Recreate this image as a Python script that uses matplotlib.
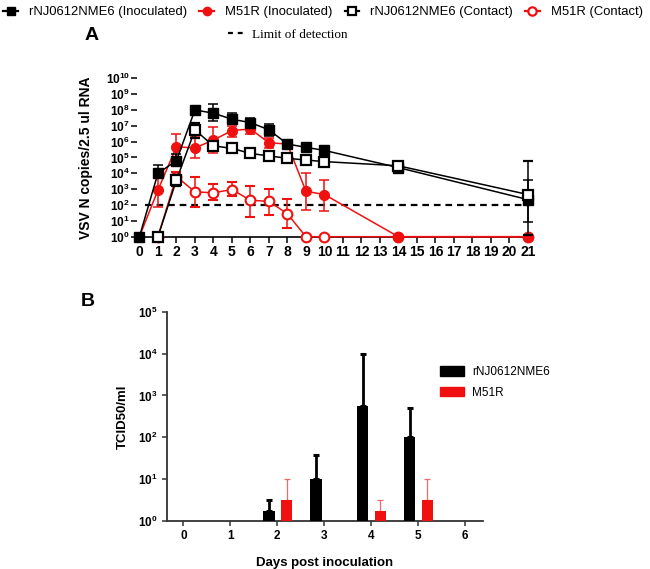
import numpy as np
import matplotlib
matplotlib.use("Agg")
from matplotlib import pyplot as plt
from matplotlib.lines import Line2D
from matplotlib.patches import Patch
from matplotlib.ticker import FixedLocator, FuncFormatter, NullLocator

plt.rcParams['font.family'] = ['Liberation Sans', 'DejaVu Sans']
plt.rcParams['mathtext.fontset'] = 'custom'
plt.rcParams['mathtext.rm'] = 'Liberation Sans'
plt.rcParams['mathtext.bf'] = 'Liberation Sans:bold'

RED = '#f01010'

# ---------------- panel A : RNA copies ----------------
days_a = [0, 1, 2, 3, 4, 5, 6, 7, 8, 9, 10, 14, 21]
days_c = [1, 2, 3, 4, 5, 6, 7, 8, 9, 10, 14, 21]

rnj_inoc = [1, 1.0e4, 6.3e4, 1.0e8, 6.3e7, 2.6e7, 1.6e7, 5.6e6, 7.1e5, 4.4e5, 2.8e5, 2.3e4, 220]
rnj_inoc_lo = [1, 5.0e3, 3.2e4, 6.3e7, 2.0e7, 1.3e7, 7.9e6, 2.2e6, 4.0e5, 2.8e5, 2.0e5, 1.0e4, 9]
rnj_inoc_hi = [1, 3.2e4, 1.6e5, 1.8e8, 2.3e8, 6.2e7, 3.2e7, 1.4e7, 1.3e6, 7.1e5, 4.0e5, 5.0e4, 4.0e3]

m51_inoc = [1, 870, 4.8e5, 4.0e5, 1.26e6, 5.0e6, 6.3e6, 8.5e5, 7.1e5, 740, 460, 1, 1]
m51_inoc_lo = [1, 80, 8.0e4, 9.3e4, 1.9e5, 2.0e6, 3.2e6, 4.0e5, 7.1e5, 50, 40, 1, 1]
m51_inoc_hi = [1, 1.8e4, 3.1e6, 2.0e6, 8.7e6, 1.0e7, 1.0e7, 1.6e6, 7.1e5, 1.1e4, 4.0e3, 1, 1]

rnj_cont = [1, 3.7e3, 5.5e6, 5.4e5, 3.8e5, 1.8e5, 1.26e5, 8.9e4, 6.9e4, 5.5e4, 3.0e4, 460]
rnj_cont_lo = [1, 1.6e3, 1.6e6, 4.5e5, 3.2e5, 1.5e5, 1.0e5, 7.5e4, 5.8e4, 4.6e4, 1.6e4, 1.2]
rnj_cont_hi = [1, 7.9e3, 1.6e7, 6.5e5, 4.5e5, 2.2e5, 1.5e5, 1.05e5, 8.2e4, 6.6e4, 5.5e4, 6.3e4]

m51_cont = [1, 6.3e3, 680, 590, 950, 200, 170, 28, 1, 1, 1, 1]
m51_cont_lo = [1, 3.2e3, 80, 220, 350, 17, 24, 3.4, 1, 1, 1, 1]
m51_cont_hi = [1, 1.3e4, 6.2e3, 2.0e3, 2.8e3, 1.7e3, 1.0e3, 240, 1, 1, 1, 1]

limit_detection = 100

# ---------------- panel B : TCID50 ----------------
days_b = [2, 3, 4, 5]
tcid_rnj = [1.7, 10, 550, 100]
tcid_rnj_hi = [3.2, 38, 1.0e4, 500]
days_b_red = [2, 4, 5]
tcid_m51 = [3.1, 1.7, 3.1]
tcid_m51_hi = [10, 3.2, 10]


def yerr(v, lo, hi):
    v, lo, hi = np.array(v), np.array(lo), np.array(hi)
    return [v - lo, hi - v]


def pow_fmt(y, pos):
    return r'$\mathbf{10^{%d}}$' % int(round(np.log10(y)))


fig = plt.figure(figsize=(6.5, 5.69), dpi=100)

axA = fig.add_axes([0.2108, 0.584, 0.607, 0.2784])
axA.set_yscale('log')

common = dict(lw=1.1, capsize=3.4, elinewidth=1.1, capthick=1.1, clip_on=False)
l4 = axA.errorbar(days_c, m51_cont, yerr=yerr(m51_cont, m51_cont_lo, m51_cont_hi),
                  color=RED, marker='o', ms=7, mfc='white', mec=RED, mew=1.5, zorder=3, **common)
l2 = axA.errorbar(days_a, m51_inoc, yerr=yerr(m51_inoc, m51_inoc_lo, m51_inoc_hi),
                  color=RED, marker='o', ms=7, mfc=RED, mec=RED, zorder=4, **common)
l1 = axA.errorbar(days_a, rnj_inoc, yerr=yerr(rnj_inoc, rnj_inoc_lo, rnj_inoc_hi),
                  color='black', marker='s', ms=7, mfc='black', mec='black', zorder=5, **common)
l3 = axA.errorbar(days_c, rnj_cont, yerr=yerr(rnj_cont, rnj_cont_lo, rnj_cont_hi),
                  color='black', marker='s', ms=6.5, mfc='white', mec='black', mew=1.6, zorder=6, **common)
for eb in (l1, l2, l3, l4):
    for art in eb.lines[1] + eb.lines[2]:
        art.set_clip_on(False)

axA.hlines(limit_detection, 0.3, 21, colors='black', linestyles=(0, (3, 2.2)), lw=1.6, zorder=2)

axA.set_xlim(-0.13, 21.2)
axA.set_ylim(1, 1e10)
axA.yaxis.set_major_locator(FixedLocator([10.0 ** k for k in range(11)]))
axA.yaxis.set_minor_locator(NullLocator())
axA.yaxis.set_major_formatter(FuncFormatter(pow_fmt))
axA.set_xticks(range(22))
axA.set_xticklabels([str(d) for d in range(22)], fontweight='bold')
axA.tick_params(axis='x', labelsize=10, width=1.1, length=4, pad=2)
axA.tick_params(axis='y', labelsize=8.6, width=1.1, length=4, pad=1)
for s in ('top', 'right', 'left'):
    axA.spines[s].set_visible(False)
axA.spines['bottom'].set_linewidth(1.2)
axA.set_ylabel('VSV N copies/2.5 ul RNA', fontsize=10, fontweight='bold')
axA.yaxis.set_label_coords(-0.112, 0.5)

# ---------------- panel B ----------------
axB = fig.add_axes([0.2565, 0.0844, 0.4862, 0.3678])
axB.set_yscale('log')
xb = np.array(days_b, dtype=float)
xr = np.array(days_b_red, dtype=float)
axB.bar(xb - 0.175, np.array(tcid_rnj) - 1, width=0.24, bottom=1, color='black', zorder=3)
axB.bar(xr + 0.2, np.array(tcid_m51) - 1, width=0.24, bottom=1, color=RED, zorder=3)
axB.errorbar(xb - 0.175, tcid_rnj, yerr=[np.zeros(len(xb)), np.array(tcid_rnj_hi) - np.array(tcid_rnj)],
             fmt='none', ecolor='black', elinewidth=2, capsize=2.3, capthick=2.2, zorder=2)
axB.errorbar(xr + 0.2, tcid_m51, yerr=[np.zeros(len(xr)), np.array(tcid_m51_hi) - np.array(tcid_m51)],
             fmt='none', ecolor='#f06a6a', elinewidth=0.9, capsize=2.5, capthick=0.9, zorder=2)
axB.set_xlim(-0.355, 6.38)
axB.set_ylim(1, 1e5)
axB.yaxis.set_major_locator(FixedLocator([10.0 ** k for k in range(6)]))
axB.yaxis.set_minor_locator(NullLocator())
axB.yaxis.set_major_formatter(FuncFormatter(pow_fmt))
axB.set_xticks(range(7))
axB.set_xticklabels([str(d) for d in range(7)], fontweight='bold')
axB.tick_params(axis='both', labelsize=8.5, width=1.1, length=3.5, pad=3, color='#333333')
for s in ('top', 'right'):
    axB.spines[s].set_visible(False)
for s in ('left', 'bottom'):
    axB.spines[s].set_linewidth(1.3)
    axB.spines[s].set_color('#333333')
axB.set_ylabel('TCID50/ml', fontsize=9.5, fontweight='bold')
axB.yaxis.set_label_coords(-0.119, 0.5)
axB.set_xlabel('Days post inoculation', fontsize=9.5, fontweight='bold')
axB.xaxis.set_label_coords(0.5, -0.172)

axB.legend(handles=[Patch(color='black'), Patch(color=RED)], labels=['rNJ0612NME6', 'M51R'],
           loc='upper left', bbox_to_anchor=(440 / 650, 1 - 366 / 569), bbox_transform=fig.transFigure,
           frameon=False, fontsize=8.5, handlelength=2.0, handleheight=0.85, handletextpad=0.7,
           labelspacing=0.75, borderpad=0, borderaxespad=0)

# ---------------- figure legends / panel letters ----------------
h1 = Line2D([], [], color='black', marker='s', ms=6, mfc='black', mec='black', lw=1.6)
h2 = Line2D([], [], color=RED, marker='o', ms=6, mfc=RED, mec=RED, lw=1.6)
h3 = Line2D([], [], color='black', marker='s', ms=6, mfc='white', mec='black', mew=1.6, lw=1.6)
h4 = Line2D([], [], color=RED, marker='o', ms=6, mfc='white', mec=RED, mew=1.6, lw=1.6)
fig.legend(handles=[h1, h2, h3, h4],
           labels=['rNJ0612NME6 (Inoculated)', 'M51R (Inoculated)',
                   'rNJ0612NME6 (Contact)', 'M51R (Contact)'],
           loc='center', bbox_to_anchor=(0.497, 1 - 12 / 569), ncol=4, frameon=False,
           fontsize=9.4, handlelength=1.1, handletextpad=0.85, columnspacing=0.95,
           borderpad=0, borderaxespad=0)

hd = Line2D([], [], color='black', lw=1.6, ls=(0, (2.2, 2.2)))
fig.legend(handles=[hd], labels=['Limit of detection'], loc='center left',
           bbox_to_anchor=(228 / 650, 1 - 35 / 569), frameon=False,
           prop={'family': 'Liberation Serif', 'size': 9.5}, handlelength=1.2,
           handletextpad=0.6, borderpad=0, borderaxespad=0)

fig.text(92 / 650, 1 - 35 / 569, 'A', fontsize=14, fontweight='bold', ha='center', va='center')
fig.text(88 / 650, 1 - 302 / 569, 'B', fontsize=14, fontweight='bold', ha='center', va='center')

fig.savefig('out.png', dpi=100)
